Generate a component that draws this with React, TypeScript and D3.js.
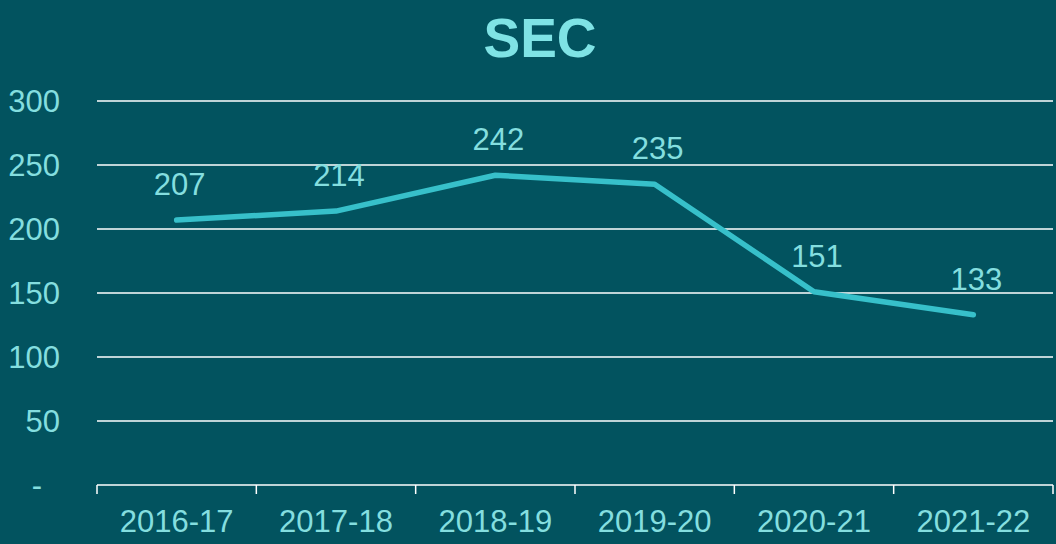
import React from 'react';
import * as d3 from 'd3';

const years = ['2016-17', '2017-18', '2018-19', '2019-20', '2020-21', '2021-22'];
const secValues = [207, 214, 242, 235, 151, 133];
const yTicks = [0, 50, 100, 150, 200, 250, 300];

export default function App() {
    const width = 1056;
    const height = 544;
    const margin = { top: 101, right: 3, bottom: 59, left: 97 };

    const bg = '#02535F';
    const textColor = '#84DEDF';
    const lineColor = '#37C0CA';
    const font = '"Liberation Sans", Arial, sans-serif';

    const x = d3.scaleBand()
        .domain(years)
        .range([margin.left, width - margin.right]);

    const y = d3.scaleLinear()
        .domain([0, 300])
        .range([height - margin.bottom, margin.top]);

    const cx = (d: string) => (x(d) as number) + x.bandwidth() / 2;

    const points = years.map((d, i) => [cx(d), y(secValues[i])] as [number, number]);
    const line = d3.line();

    // category boundaries for the x axis ticks
    const bounds = years.map(d => x(d) as number).concat([x.range()[1]]);

    return (
        <svg width={width} height={height} style={{ position: 'absolute', left: 0, top: 0, background: bg }}>
            <rect x={0} y={0} width={width} height={height} fill={bg} />

            <text x={width / 2 + 12} y={57} textAnchor="middle" fill="#7FE3E5"
                style={{ fontFamily: font, fontWeight: 'bold', fontSize: 55 }}>SEC</text>

            {yTicks.map(t => (
                <g key={t}>
                    {t > 0 && <line x1={margin.left} x2={width - margin.right} y1={y(t)} y2={y(t)}
                        stroke="#FFFFFF" strokeWidth={1.5} />}
                    <text x={t === 0 ? 42 : 60} y={y(t)} dy="0.36em" textAnchor="end" fill={textColor}
                        style={{ fontFamily: font, fontSize: 31 }}>{t === 0 ? '-' : t}</text>
                </g>
            ))}

            <line x1={margin.left} x2={width - margin.right} y1={y(0)} y2={y(0)}
                stroke="#FFFFFF" strokeWidth={1.5} />
            {bounds.map((b, i) => (
                <line key={i} x1={b} x2={b} y1={y(0)} y2={y(0) + 9} stroke="#FFFFFF" strokeWidth={1.5} />
            ))}
            {years.map(d => (
                <text key={d} x={cx(d)} y={532} textAnchor="middle" fill={textColor}
                    style={{ fontFamily: font, fontSize: 31 }}>{d}</text>
            ))}

            <path d={line(points) as string} fill="none" stroke={lineColor} strokeWidth={5.5}
                strokeLinecap="round" strokeLinejoin="round" />

            {points.map((p, i) => (
                <text key={i} x={p[0] + 3} y={p[1] - 25} textAnchor="middle" fill={textColor}
                    style={{ fontFamily: font, fontSize: 31 }}>{secValues[i]}</text>
            ))}
        </svg>
    );
}
